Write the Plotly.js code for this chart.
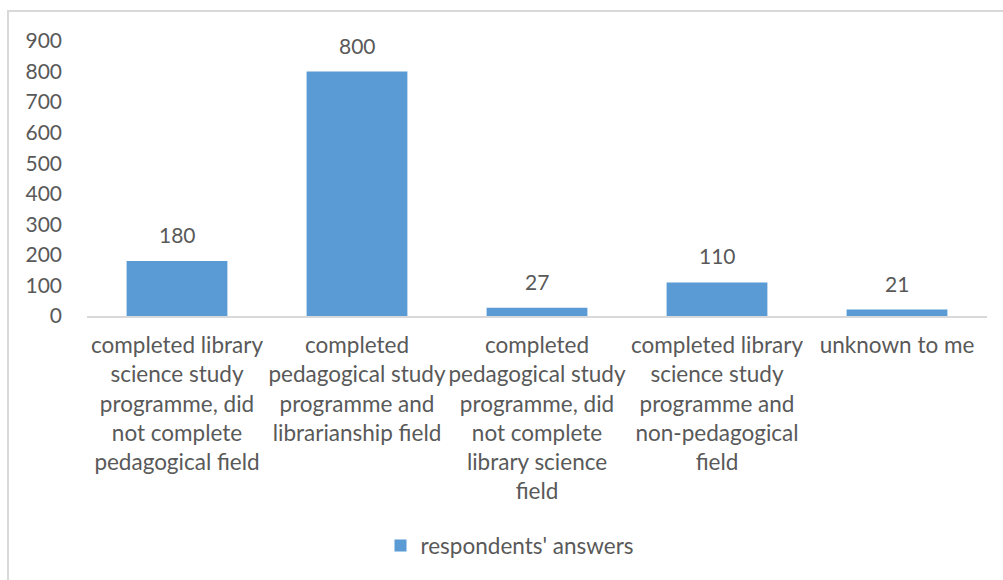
<!DOCTYPE html>
<html>
<head>
<meta charset="utf-8">
<script src="https://cdn.plot.ly/plotly-3.0.1.min.js"></script>
<style>
  html, body { margin: 0; padding: 0; background: #ffffff; overflow: hidden; }
  #frame { position: absolute; left: 7px; top: 10px; width: 1100px; height: 700px;
           border-left: 2px solid #d9d9d9; border-top: 2px solid #d9d9d9; }
  #chart { position: absolute; left: 0; top: 0; width: 1003px; height: 580px; }
</style>
</head>
<body>
<div id="frame"></div>
<div id="chart"></div>
<script>
const categories = [
  "completed library<br>science study<br>programme, did<br>not complete<br>pedagogical field",
  "completed<br>pedagogical study<br>programme and<br>librarianship field",
  "completed<br>pedagogical study<br>programme, did<br>not complete<br>library science<br>field",
  "completed library<br>science study<br>programme and<br>non-pedagogical<br>field",
  "unknown to me"
];
const values = [180, 800, 27, 110, 21];
const seriesName = "respondents' answers";
const yTicks = [0, 100, 200, 300, 400, 500, 600, 700, 800, 900];

const fontFamily = "Lato, 'Open Sans', sans-serif";
const textColor = "#595959";

const trace = {
  type: "bar",
  x: categories,
  y: values,
  name: seriesName,
  marker: { color: "#5b9bd5" },
  showlegend: true,
  hoverinfo: "skip"
};

const annotations = categories.map((c, i) => ({
  x: c, y: values[i], xref: "x", yref: "y",
  text: String(values[i]), showarrow: false,
  yanchor: "bottom", yshift: 12,
  font: { family: fontFamily, size: 21, color: textColor }
}));

const layout = {
  width: 1003, height: 580,
  margin: { l: 87, r: 16, t: 41, b: 264 },
  paper_bgcolor: "rgba(0,0,0,0)",
  plot_bgcolor: "rgba(0,0,0,0)",
  bargap: 0.44,
  font: { family: fontFamily, size: 21, color: textColor },
  xaxis: {
    type: "category",
    showline: true, linecolor: "#d9d9d9", linewidth: 2,
    showgrid: false, zeroline: false, ticks: "",
    tickfont: { family: fontFamily, size: 22.5, color: textColor },
    tickangle: 0,
    ticklabelstandoff: 8
  },
  yaxis: {
    range: [0, 900], tickvals: yTicks, ticktext: yTicks.map(String),
    showgrid: false, zeroline: false, showline: false, ticks: "",
    tickfont: { family: fontFamily, size: 21, color: textColor },
    ticklabelstandoff: 24,
    fixedrange: true
  },
  legend: {
    orientation: "h", x: 0.470, xanchor: "center", y: -0.836, yanchor: "middle",
    font: { family: fontFamily, size: 22.5, color: textColor },
    bgcolor: "rgba(0,0,0,0)"
  },
  annotations: annotations
};

Plotly.newPlot("chart", [trace], layout, { displayModeBar: false, staticPlot: true });
</script>
</body>
</html>
